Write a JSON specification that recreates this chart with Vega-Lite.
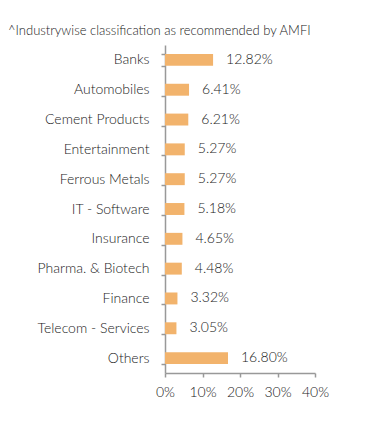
{
  "$schema": "https://vega.github.io/schema/vega-lite/v6.json",
  "autosize": {"type": "none"},
  "padding": {"left": 165, "top": 45, "right": 76, "bottom": 53},
  "width": 150,
  "height": 328,
  "background": "white",
  "title": {
    "text": "^Industrywise classification as recommended by AMFI",
    "anchor": "start",
    "frame": "group",
    "dx": -157,
    "offset": 0,
    "font": "Lato",
    "fontSize": 13,
    "fontWeight": 300,
    "color": "#222222"
  },
  "data": {
    "values": [
      {"industry": "Banks", "pct": 12.82},
      {"industry": "Automobiles", "pct": 6.41},
      {"industry": "Cement Products", "pct": 6.21},
      {"industry": "Entertainment", "pct": 5.27},
      {"industry": "Ferrous Metals", "pct": 5.27},
      {"industry": "IT - Software", "pct": 5.18},
      {"industry": "Insurance", "pct": 4.65},
      {"industry": "Pharma. & Biotech", "pct": 4.48},
      {"industry": "Finance", "pct": 3.32},
      {"industry": "Telecom - Services", "pct": 3.05},
      {"industry": "Others", "pct": 16.8}
    ]
  },
  "config": {
    "view": {"stroke": null},
    "font": "Lato"
  },
  "encoding": {
    "y": {
      "field": "industry",
      "type": "nominal",
      "sort": null,
      "title": null,
      "scale": {"paddingInner": 0.6, "paddingOuter": 0.3},
      "axis": {
        "domainColor": "#999999",
        "domainWidth": 1.5,
        "tickColor": "#999999",
        "tickWidth": 1.5,
        "tickSize": 4,
        "tickBand": "extent",
        "labelPadding": 12,
        "labelFont": "Lato",
        "labelFontSize": 14,
        "labelFontWeight": 300,
        "labelColor": "#1a1a1a"
      }
    },
    "x": {
      "field": "pct",
      "type": "quantitative",
      "title": null,
      "scale": {"domain": [0, 40]},
      "axis": {
        "values": [0, 10, 20, 30, 40],
        "labelExpr": "datum.value + '%'",
        "labelOverlap": false,
        "labelFlush": false,
        "labelBound": false,
        "grid": false,
        "domainColor": "#999999",
        "domainWidth": 1.5,
        "tickColor": "#999999",
        "tickWidth": 1.5,
        "tickSize": 4,
        "labelPadding": 8,
        "labelFont": "Lato",
        "labelFontSize": 14,
        "labelFontWeight": 300,
        "labelColor": "#1a1a1a"
      }
    }
  },
  "layer": [
    {
      "mark": {"type": "bar", "color": "#F2B36C"}
    },
    {
      "mark": {"type": "text", "align": "left", "dx": 13, "font": "Lato", "fontSize": 14, "fontWeight": 300, "color": "#1a1a1a",
               "text": {"expr": "format(datum.pct, '.2f') + '%'"}}
    }
  ]
}
